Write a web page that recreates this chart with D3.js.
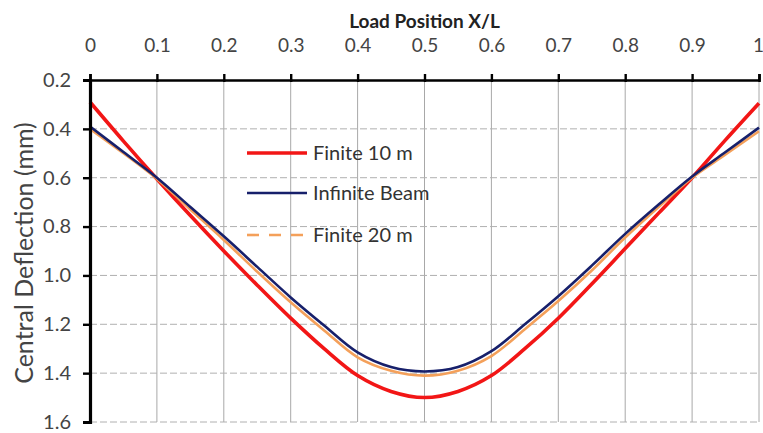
<!DOCTYPE html>
<html>
<head>
<meta charset="utf-8">
<script src="https://cdn.jsdelivr.net/npm/d3@7/dist/d3.min.js"></script>
<style>
  html, body { margin: 0; padding: 0; background: #fff; }
  svg { display: block; }
</style>
</head>
<body>
<svg id="chart" width="763" height="433"></svg>
<script>
// Load position along the beam (X/L)
const positions = [0, 0.05, 0.1, 0.15, 0.2, 0.25, 0.3, 0.35, 0.4, 0.45, 0.5,
                   0.55, 0.6, 0.65, 0.7, 0.75, 0.8, 0.85, 0.9, 0.95, 1];
// Central deflection (mm) for each beam model
const finite10 = [0.29, 0.45, 0.605, 0.755, 0.90, 1.04, 1.175, 1.30, 1.41, 1.475, 1.50,
                  1.475, 1.41, 1.30, 1.175, 1.035, 0.89, 0.745, 0.60, 0.445, 0.295];
const infiniteBeam = [0.39, 0.495, 0.60, 0.72, 0.84, 0.965, 1.09, 1.205, 1.315, 1.375, 1.393,
                      1.375, 1.31, 1.20, 1.085, 0.96, 0.83, 0.71, 0.595, 0.495, 0.395];
const finite20 = [0.40, 0.50, 0.605, 0.73, 0.855, 0.985, 1.11, 1.225, 1.335, 1.39, 1.41,
                  1.39, 1.33, 1.22, 1.105, 0.98, 0.845, 0.72, 0.60, 0.505, 0.41];

const xTicks = [0, 0.1, 0.2, 0.3, 0.4, 0.5, 0.6, 0.7, 0.8, 0.9, 1];
const xTickLabels = ["0", "0.1", "0.2", "0.3", "0.4", "0.5", "0.6", "0.7", "0.8", "0.9", "1"];
const yTicks = [0.2, 0.4, 0.6, 0.8, 1.0, 1.2, 1.4, 1.6];
const yTickLabels = ["0.2", "0.4", "0.6", "0.8", "1.0", "1.2", "1.4", "1.6"];

const seriesNames = ["Finite 10 m", "Infinite Beam", "Finite 20 m"];

const font = "Lato, 'Open Sans', sans-serif";
const svg = d3.select("#chart");

const x = d3.scaleLinear().domain([0, 1]).range([90, 759]);
const y = d3.scaleLinear().domain([0.2, 1.6]).range([80, 422]);

// Gridlines
const grid = svg.append("g");
grid.selectAll("line.v").data(xTicks.slice(1)).join("line")
  .attr("x1", d => x(d)).attr("x2", d => x(d))
  .attr("y1", y(0.2)).attr("y2", y(1.6))
  .attr("stroke", "#a8a8a8").attr("stroke-width", 1);
grid.selectAll("line.h").data(yTicks.slice(1)).join("line")
  .attr("x1", x(0)).attr("x2", x(1))
  .attr("y1", d => y(d)).attr("y2", d => y(d))
  .attr("stroke", "#b0b0b0").attr("stroke-width", 1)
  .attr("stroke-dasharray", "7,3");

// Curves
const line = d3.line().x((d, i) => x(positions[i])).y(d => y(d)).curve(d3.curveCatmullRom.alpha(0.5));
const series = [
  { name: seriesNames[0], values: finite10, color: "#f21616", width: 3.6 },
  { name: seriesNames[1], values: infiniteBeam, color: "#17206b", width: 2.6 },
  { name: seriesNames[2], values: finite20, color: "#f4a05a", width: 2.6 }
];
const drawOrder = [series[0], series[2], series[1]];
svg.append("g").selectAll("path").data(drawOrder).join("path")
  .attr("d", d => line(d.values))
  .attr("fill", "none")
  .attr("stroke", d => d.color)
  .attr("stroke-width", d => d.width)
  .attr("stroke-linejoin", "round");

// Top axis
const xAxis = d3.axisTop(x).tickValues(xTicks).tickSize(6)
  .tickFormat((d, i) => xTickLabels[i]).tickPadding(22);
const gx = svg.append("g").attr("transform", `translate(0,${y(0.2)})`).call(xAxis);
gx.select(".domain").attr("stroke", "#000").attr("stroke-width", 2.6);
gx.selectAll(".tick line").attr("stroke", "#000").attr("stroke-width", 2.4).attr("y2", -6).attr("y1", 2);
gx.selectAll(".tick text").attr("font-family", font).attr("font-size", 19).attr("fill", "#444")
  .attr("dx", (d, i) => i === xTicks.length - 1 ? -1 : 0);

// Left axis
const yAxis = d3.axisLeft(y).tickValues(yTicks).tickSize(7)
  .tickFormat((d, i) => yTickLabels[i]).tickPadding(12);
const gy = svg.append("g").attr("transform", `translate(${x(0)},0)`).call(yAxis);
gy.select(".domain").attr("stroke", "#000").attr("stroke-width", 3.2);
gy.selectAll(".tick line").attr("stroke", "#000").attr("stroke-width", 2.4);
gy.selectAll(".tick text").attr("font-family", font).attr("font-size", 20).attr("fill", "#444");
svg.selectAll(".domain").attr("fill", "none");

// Axis titles
svg.append("text").attr("x", x(0.5)).attr("y", 28)
  .attr("text-anchor", "middle").attr("font-family", font)
  .attr("font-weight", "bold").attr("font-size", 19).attr("fill", "#222")
  .text("Load Position X/L");
svg.append("text")
  .attr("transform", "translate(33,253) rotate(-90)")
  .attr("text-anchor", "middle").attr("font-family", font)
  .attr("font-size", 25).attr("fill", "#444")
  .text("Central Deflection (mm)");

// Legend
const legendY = [153, 193, 235];
const legend = svg.append("g");
series.forEach((s, i) => {
  legend.append("line")
    .attr("x1", 247).attr("x2", 307)
    .attr("y1", legendY[i]).attr("y2", legendY[i])
    .attr("stroke", s.color).attr("stroke-width", s.width)
    .attr("stroke-dasharray", i === 2 ? "12,10" : null);
  legend.append("text")
    .attr("x", 313).attr("y", legendY[i]).attr("dy", "0.35em")
    .attr("font-family", font).attr("font-size", 20).attr("fill", "#333")
    .text(s.name);
});
</script>
</body>
</html>
